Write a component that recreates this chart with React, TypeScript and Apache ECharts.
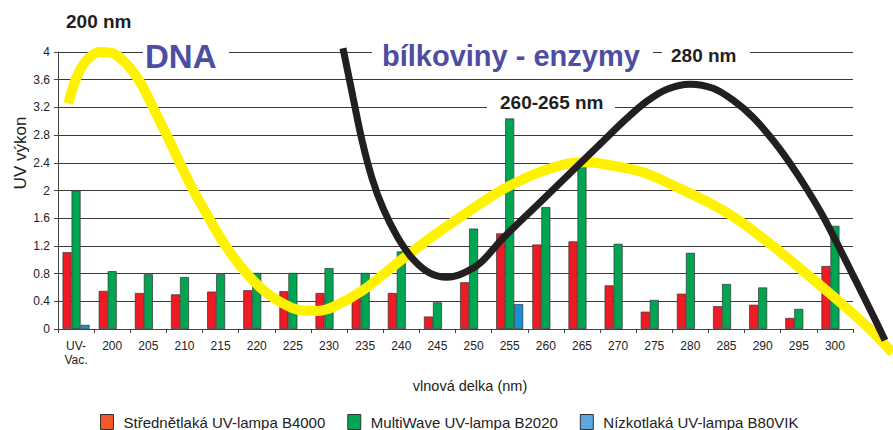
import React, { useEffect, useRef } from "react";
import * as echarts from "echarts";

const categories = ["UV-\nVac.", "200", "205", "210", "215", "220", "225", "230", "235", "240", "245", "250", "255", "260", "265", "270", "275", "280", "285", "290", "295", "300"];
const seriesNames = ["Střednětlaká UV-lampa B4000", "MultiWave UV-lampa B2020", "Nízkotlaká UV-lampa B80VIK"];
const mediumPressure = [1.11, 0.55, 0.52, 0.5, 0.54, 0.56, 0.545, 0.52, 0.53, 0.52, 0.18, 0.675, 1.38, 1.22, 1.265, 0.63, 0.25, 0.51, 0.33, 0.35, 0.16, 0.91];
const multiWave = [2.0, 0.835, 0.79, 0.75, 0.79, 0.81, 0.81, 0.88, 0.81, 1.12, 0.385, 1.45, 3.04, 1.76, 2.35, 1.23, 0.42, 1.1, 0.65, 0.6, 0.29, 1.49];
const lowPressure = [0.06, null, null, null, null, null, null, null, null, null, null, null, 0.36, null, null, null, null, null, null, null, null, null];

// absorption curves: [wavelength nm, relative value]
const dnaCurve: [number, number][] = [
  [193.93, 3.256], [195.09, 3.64], [196.47, 3.882], [198.31, 4.001], [200.15, 3.978], [202.01, 3.824],
  [203.85, 3.564], [205.69, 3.193], [207.54, 2.799], [209.38, 2.394], [211.22, 2.004], [213.08, 1.658],
  [214.92, 1.326], [216.76, 1.041], [218.61, 0.801], [220.91, 0.56], [223.22, 0.391], [225.98, 0.271],
  [228.3, 0.261], [230.59, 0.319], [234.7, 0.56], [239.41, 0.95], [243.97, 1.311], [248.54, 1.643],
  [252.27, 1.903], [254.07, 2.019], [258.78, 2.25], [263.34, 2.394], [265.7, 2.409], [268.88, 2.365],
  [273.44, 2.264], [278.15, 2.048], [282.71, 1.817], [286.45, 1.586], [291.43, 1.196], [296.14, 0.791],
  [300.7, 0.387], [304.85, -0.003], [307.95, -0.345],
];
const proteinCurve: [number, number][] = [
  [231.93, 4.055], [233.32, 3.347], [234.56, 2.726], [235.95, 2.178], [237.47, 1.744], [239.41, 1.34],
  [241.62, 1.008], [243.97, 0.806], [246.32, 0.748], [248.54, 0.806], [250.89, 0.95], [254.07, 1.311],
  [258.78, 1.788], [263.34, 2.25], [267.91, 2.712], [271.23, 3.044], [274.0, 3.29], [276.76, 3.463],
  [279.95, 3.535], [283.13, 3.477], [285.9, 3.304], [288.66, 3.058], [291.43, 2.726], [293.78, 2.394],
  [296.14, 2.018], [298.35, 1.629], [300.43, 1.21], [302.5, 0.777], [304.85, 0.286], [306.93, -0.162],
];
const annotations = ["200 nm", "DNA", "bílkoviny - enzymy", "280 nm", "260-265 nm"];
const yAxisTitle = "UV výkon";
const xAxisTitle = "vlnová delka (nm)";

const FONT = "'Liberation Sans', Arial, Helvetica, sans-serif";

export default function App() {
  const ref = useRef<HTMLDivElement>(null);
  useEffect(() => {
    if (!ref.current) return;
    const chart = echarts.init(ref.current, null, { renderer: "svg" });
    const barBase = {
      type: "bar",
      xAxisIndex: 0,
      yAxisIndex: 0,
      barWidth: 9,
      barGap: "0%",
      z: 2,
    };
    const curveBase = {
      type: "line",
      xAxisIndex: 1,
      yAxisIndex: 1,
      smooth: 0.35,
      showSymbol: false,
      symbol: "none",
      clip: false,
      silent: true,
    };
    const whiteRect = (x: number, y: number, w: number, h: number) => ({
      type: "rect",
      z: 50,
      shape: { x, y, width: w, height: h },
      style: { fill: "#fff" },
    });
    const label = (text: string, x: number, y: number, font: string, fill: string) => ({
      type: "text",
      z: 60,
      x,
      y,
      style: { text, font, fill, textAlign: "left", textVerticalAlign: "middle" },
    });
    chart.setOption({
      animation: false,
      backgroundColor: "#fff",
      grid: [
        { left: 58, right: 40, top: 52, bottom: 101, outerBoundsMode: "none" },
        { left: 58, right: 0, top: 0, bottom: 0, outerBoundsMode: "none" },
      ],
      legend: {
        left: 100,
        top: 414,
        padding: 0,
        itemWidth: 13,
        itemHeight: 15,
        itemGap: 22,
        icon: "rect",
        itemStyle: { borderColor: "#333", borderWidth: 1 },
        textStyle: { fontFamily: FONT, fontSize: 15, color: "#222", padding: [0, 0, 0, 5] },
        data: [
          { name: seriesNames[0], itemStyle: { color: "#f15a24" } },
          { name: seriesNames[1], itemStyle: { color: "#00a651" } },
          { name: seriesNames[2], itemStyle: { color: "#5aa8de" } },
        ],
      },
      xAxis: [
        {
          type: "category",
          gridIndex: 0,
          data: categories,
          axisLine: { lineStyle: { color: "#444", width: 1 } },
          axisTick: { show: true, length: 4, lineStyle: { color: "#444" } },
          axisLabel: { fontFamily: FONT, fontSize: 12, color: "#222", margin: 10, lineHeight: 14, interval: 0 },
        },
        {
          type: "value",
          gridIndex: 1,
          min: 192.5,
          max: 192.5 + (835 * 110) / 795,
          show: false,
          splitLine: { show: false },
        },
      ],
      yAxis: [
        {
          type: "value",
          gridIndex: 0,
          min: 0,
          max: 4,
          interval: 0.4,
          axisLine: { show: true, lineStyle: { color: "#444", width: 1 } },
          axisTick: { show: true, length: 4, lineStyle: { color: "#444" } },
          axisLabel: {
            fontFamily: FONT,
            fontSize: 12,
            color: "#222",
            margin: 8,
            formatter: (v: number) => String(Number(v.toFixed(1))),
          },
          splitLine: { show: true, lineStyle: { color: "#3a3a3a", width: 1 } },
        },
        {
          type: "value",
          gridIndex: 1,
          min: -378 / 69.25 + 4,
          max: 4 + 52 / 69.25,
          show: false,
          splitLine: { show: false },
        },
      ],
      series: [
        { ...barBase, name: seriesNames[0], data: mediumPressure, itemStyle: { color: "#ed1c24", borderColor: "#333", borderWidth: 0.7 } },
        { ...barBase, name: seriesNames[1], data: multiWave, itemStyle: { color: "#00a551", borderColor: "#333", borderWidth: 0.7 } },
        { ...barBase, name: seriesNames[2], data: lowPressure, itemStyle: { color: "#1b8fd6", borderColor: "#333", borderWidth: 0.7 } },
        { ...curveBase, name: "DNA", data: dnaCurve, z: 5, lineStyle: { color: "#fff200", width: 10 } },
        { ...curveBase, name: "proteins", data: proteinCurve, z: 6, lineStyle: { color: "#231f20", width: 7 } },
      ],
      graphic: [
        whiteRect(143, 47, 86, 10),
        whiteRect(372, 47, 281, 10),
        whiteRect(662, 47, 88, 10),
        whiteRect(487, 102, 128, 10),
        label(annotations[0], 66, 21, `bold 19px ${FONT}`, "#231f20"),
        label(annotations[1], 145, 56, `bold 33px ${FONT}`, "#4d4ea3"),
        label(annotations[2], 382, 56, `bold 29px ${FONT}`, "#4d4ea3"),
        label(annotations[3], 671, 55, `bold 19px ${FONT}`, "#231f20"),
        label(annotations[4], 500, 102, `bold 19px ${FONT}`, "#231f20"),
        {
          type: "text",
          z: 60,
          x: 20,
          y: 153,
          rotation: Math.PI / 2,
          style: { text: yAxisTitle, font: `17px ${FONT}`, fill: "#222", textAlign: "center", textVerticalAlign: "middle" },
        },
        {
          type: "text",
          z: 60,
          x: 470,
          y: 386,
          style: { text: xAxisTitle, font: `14.5px ${FONT}`, fill: "#222", textAlign: "center", textVerticalAlign: "middle" },
        },
      ],
    });
    return () => chart.dispose();
  }, []);
  return <div ref={ref} style={{ position: "fixed", left: 0, top: 0, width: 893, height: 430 }} />;
}
